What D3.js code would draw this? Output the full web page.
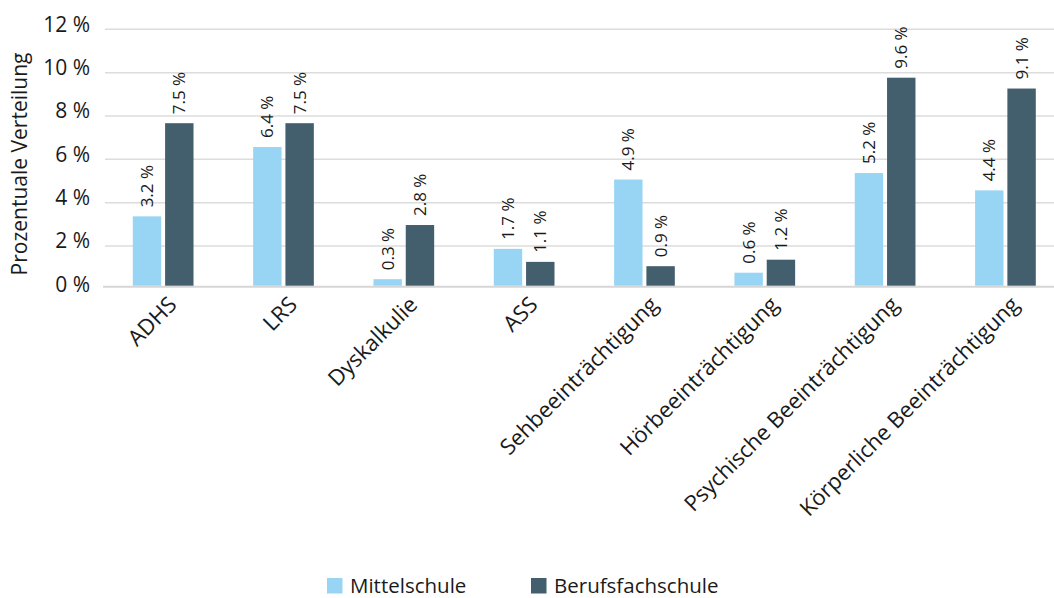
<!DOCTYPE html>
<html>
<head>
<meta charset="utf-8">
<script src="https://cdn.jsdelivr.net/npm/d3@7"></script>
<style>
  body { margin: 0; background: #fff; }
  svg { font-family: "Open Sans", sans-serif; }
</style>
</head>
<body>
<div id="chart"></div>
<script>
// categories and series
var categories = ["ADHS", "LRS", "Dyskalkulie", "ASS", "Sehbeeinträchtigung",
  "Hörbeeinträchtigung", "Psychische Beeinträchtigung", "Körperliche Beeinträchtigung"];
var seriesNames = ["Mittelschule", "Berufsfachschule"];
var mittelschule = [3.2, 6.4, 0.3, 1.7, 4.9, 0.6, 5.2, 4.4];
var berufsfachschule = [7.5, 7.5, 2.8, 1.1, 0.9, 1.2, 9.6, 9.1];
var yTicks = [0, 2, 4, 6, 8, 10, 12];
var colours = ["#98d5f5", "#435e6c"];

var width = 1054, height = 598;
var fmt = function(v) { return String(v) + " %"; };

var svg = d3.select("#chart").append("svg")
  .attr("width", width)
  .attr("height", height);

// scales
var x = d3.scaleBand()
  .domain(categories)
  .range([103, 1065.6]);

var inner = d3.scaleBand()
  .domain(seriesNames)
  .range([0, 60.7])
  .paddingInner(0.12);

var y = d3.scaleLinear()
  .domain([0, 12])
  .range([285.7, 25.7]);

// gridlines sit a bit lower than the bar scale in the original
var gridOffset = 3.6;

svg.append("g").selectAll("line")
  .data(yTicks.filter(d => d > 0))
  .enter().append("line")
  .attr("x1", 105).attr("x2", width)
  .attr("y1", d => y(d) + gridOffset)
  .attr("y2", d => y(d) + gridOffset)
  .attr("stroke", "#dcdcdc")
  .attr("stroke-width", 1.5);

// baseline
svg.append("line")
  .attr("x1", 103).attr("x2", width)
  .attr("y1", y(0) + 1).attr("y2", y(0) + 1)
  .attr("stroke", "#d6d6d6")
  .attr("stroke-width", 2);

// y tick labels
svg.append("g").selectAll("text")
  .data(yTicks)
  .enter().append("text")
  .attr("x", 90)
  .attr("y", d => y(d) - 1.5)
  .attr("dy", "0.35em")
  .attr("text-anchor", "end")
  .attr("font-size", 21)
  .attr("fill", "#1a1a1a")
  .text(fmt);

// y axis title
svg.append("text")
  .attr("transform", "translate(27,164) rotate(-90)")
  .attr("text-anchor", "middle")
  .attr("font-size", 21)
  .attr("fill", "#1a1a1a")
  .text("Prozentuale Verteilung");

// bars
var rows = categories.map((c, i) => ({
  cat: c,
  vals: [
    { s: seriesNames[0], v: mittelschule[i] },
    { s: seriesNames[1], v: berufsfachschule[i] }
  ]
}));

var groups = svg.append("g").selectAll("g")
  .data(rows)
  .enter().append("g")
  .attr("transform", d => `translate(${x(d.cat) + x.bandwidth() / 2 - 30.35},0)`);

groups.selectAll("rect")
  .data(d => d.vals)
  .enter().append("rect")
  .attr("x", d => inner(d.s))
  .attr("width", inner.bandwidth())
  .attr("y", d => y(d.v))
  .attr("height", d => y(0) - y(d.v))
  .attr("fill", (d, i) => colours[i]);

// value labels
groups.selectAll("text")
  .data(d => d.vals)
  .enter().append("text")
  .attr("transform", d => `translate(${inner(d.s) + inner.bandwidth() / 2},${y(d.v) - 9}) rotate(-90)`)
  .attr("dy", "0.35em")
  .attr("font-size", 17)
  .attr("fill", "#1a1a1a")
  .text(d => fmt(d.v));

// category labels
svg.append("g").selectAll("text")
  .data(categories)
  .enter().append("text")
  .attr("transform", d => `translate(${x(d) + x.bandwidth() / 2 + 15},${306}) rotate(-45)`)
  .attr("text-anchor", "end")
  .attr("font-size", 22)
  .attr("fill", "#1a1a1a")
  .text(d => d);

// legend
var legend = svg.append("g").selectAll("g")
  .data(seriesNames)
  .enter().append("g")
  .attr("transform", (d, i) => `translate(${327 + i * 204},578)`);

legend.append("rect")
  .attr("width", 15.5).attr("height", 15.5)
  .attr("fill", (d, i) => colours[i]);

legend.append("text")
  .attr("x", 23)
  .attr("y", 14.5)
  .attr("font-size", 20.5)
  .attr("fill", "#1a1a1a")
  .text(d => d);
</script>
</body>
</html>
